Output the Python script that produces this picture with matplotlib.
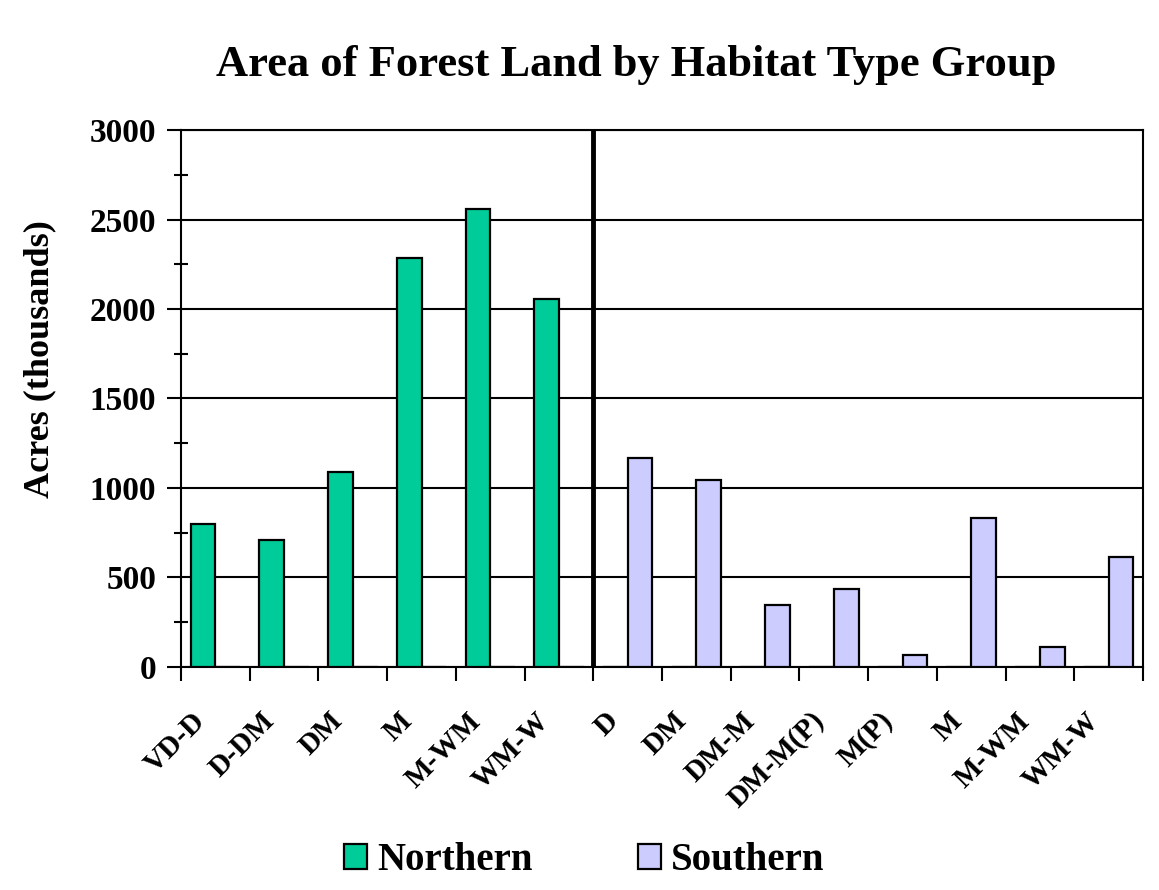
import numpy as np
from matplotlib import pyplot as plt
from matplotlib.ticker import MultipleLocator, FixedLocator

plt.rcParams['font.family'] = ['Liberation Serif', 'DejaVu Serif']
plt.rcParams['font.weight'] = 'bold'

categories = ['VD-D', 'D-DM', 'DM', 'M', 'M-WM', 'WM-W',
              'D', 'DM', 'DM-M', 'DM-M(P)', 'M(P)', 'M', 'M-WM', 'WM-W']
northern = [800, 710, 1090, 2285, 2560, 2055, 0, 0, 0, 0, 0, 0, 0, 0]
southern = [0, 0, 0, 0, 0, 0, 1165, 1045, 345, 435, 65, 830, 110, 615]
y_ticks = [0, 500, 1000, 1500, 2000, 2500, 3000]

x = np.arange(len(categories))
w = 0.36

fig = plt.figure(figsize=(11.59, 8.9), dpi=100)
ax = fig.add_axes([0.1562, 0.2506, 0.83, 0.6033])

ax.bar(x - w/2, northern, w, color='#00CC99', edgecolor='black', linewidth=1.6,
       label='Northern', zorder=3)
ax.bar(x + w/2, southern, w, color='#CCCCFF', edgecolor='black', linewidth=1.6,
       label='Southern', zorder=3)

ax.set_xlim(-0.5, len(categories) - 0.5)
ax.set_ylim(0, 3000)
ax.set_yticks(y_ticks)
ax.yaxis.set_minor_locator(MultipleLocator(250))
ax.grid(axis='y', color='black', linewidth=1.5, zorder=1)
ax.axvline(5.5, color='black', linewidth=3.5, zorder=4)

# category labels sit a little left of the slot centre, like the original
ax.set_xticks(x)
ax.set_xticklabels([])
for xi, cat in zip(x, categories):
    ax.annotate(cat, (xi, 0), xycoords=('data', 'axes fraction'),
                xytext=(-17, -29), textcoords='offset points',
                rotation=45, ha='right', va='top', rotation_mode='anchor',
                fontsize=21, fontweight='bold')
ax.xaxis.set_minor_locator(FixedLocator(np.arange(-0.5, len(categories), 1)))
ax.tick_params(axis='x', which='major', length=0)
ax.tick_params(axis='x', which='minor', length=10, width=1.5, direction='out')
ax.tick_params(axis='y', which='major', length=10, width=1.5, direction='out',
               labelsize=24, pad=8)
ax.tick_params(axis='y', which='minor', length=10, width=1.5, direction='inout')

for s in ax.spines.values():
    s.set_linewidth(1.5)

ax.set_ylabel('Acres (thousands)', fontsize=26, fontweight='bold', va='center')
ax.yaxis.set_label_coords(-0.147, 0.574)
fig.text(0.549, 0.927, 'Area of Forest Land by Habitat Type Group',
         ha='center', va='center', fontsize=32, fontweight='bold')

fig.legend(loc='center', bbox_to_anchor=(0.504, 0.033), ncol=2, frameon=False,
           fontsize=28, handlelength=0.6, handleheight=0.6, columnspacing=2.7,
           handletextpad=0.25)

fig.savefig('out.png', dpi=100)
